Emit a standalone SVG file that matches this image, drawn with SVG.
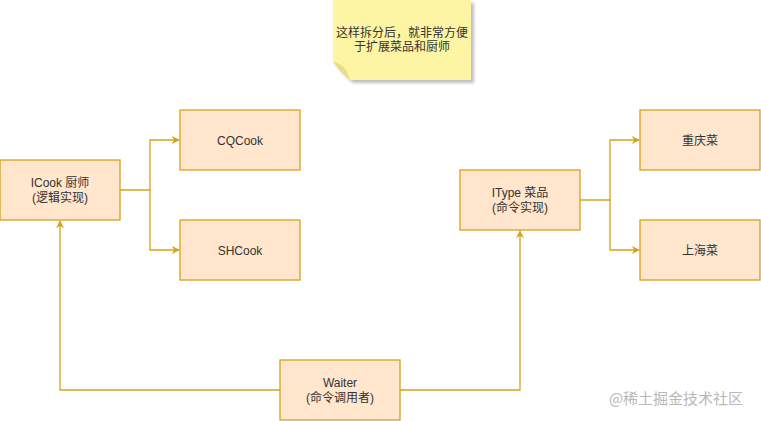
<svg xmlns="http://www.w3.org/2000/svg" width="761" height="421" viewBox="0 0 761 421">
<style>
.box{fill:#ffe6cc;stroke:#d6a21a;stroke-width:1.3}
.t{font-family:"Liberation Sans","Noto Sans CJK SC",sans-serif;font-size:12px;fill:#333;text-anchor:middle}
.edge{fill:none;stroke:#d6a21a;stroke-width:1.3}
</style>
<defs>
<marker id="ah" viewBox="0 0 10 10" refX="9" refY="5" markerWidth="8" markerHeight="8" markerUnits="userSpaceOnUse" orient="auto">
<path d="M0,0 L10,5 L0,10 L3,5 Z" fill="#d6a21a"/>
</marker>
<filter id="sh" x="-10%" y="-10%" width="130%" height="130%">
<feGaussianBlur in="SourceAlpha" stdDeviation="1.5"/>
<feOffset dx="3" dy="3"/>
<feComponentTransfer><feFuncA type="linear" slope="0.25"/></feComponentTransfer>
<feMerge><feMergeNode/><feMergeNode in="SourceGraphic"/></feMerge>
</filter>
</defs>
<rect width="761" height="421" fill="#fff"/>
<g id="note">
<path d="M333,0 L471,0 L471,80 L350,80 Q340,72 333,62 Z" fill="#fdf4a4" filter="url(#sh)"/>
<path d="M333,62 Q346,64 350,80 Q340,72 333,62 Z" fill="#e8dc8c"/>
<text class="t" x="402" y="37">这样拆分后，就非常方便</text>
<text class="t" x="402" y="51">于扩展菜品和厨师</text>
</g>
<g id="connectors">
<path class="edge" d="M120,190 H150 V140 H179" marker-end="url(#ah)"/>
<path class="edge" d="M150,190 V250 H179" marker-end="url(#ah)"/>
<path class="edge" d="M580,200 H610 V140 H639" marker-end="url(#ah)"/>
<path class="edge" d="M610,200 V250 H639" marker-end="url(#ah)"/>
<path class="edge" d="M280,390 H60 V221" marker-end="url(#ah)"/>
<path class="edge" d="M400,390 H520 V231" marker-end="url(#ah)"/>
</g>
<g id="icook">
<rect class="box" x="0" y="160" width="120" height="60"/>
<text class="t" x="60" y="187">ICook 厨师</text>
<text class="t" x="60" y="202">(逻辑实现)</text>
</g>
<g id="cqcook">
<rect class="box" x="180" y="110" width="120" height="60"/>
<text class="t" x="240" y="145">CQCook</text>
</g>
<g id="shcook">
<rect class="box" x="180" y="220" width="120" height="60"/>
<text class="t" x="240" y="255">SHCook</text>
</g>
<g id="itype">
<rect class="box" x="460" y="170" width="120" height="60"/>
<text class="t" x="520" y="197">IType 菜品</text>
<text class="t" x="520" y="212">(命令实现)</text>
</g>
<g id="cq">
<rect class="box" x="640" y="110" width="120" height="60"/>
<text class="t" x="700" y="145">重庆菜</text>
</g>
<g id="sh">
<rect class="box" x="640" y="220" width="120" height="60"/>
<text class="t" x="700" y="255">上海菜</text>
</g>
<g id="waiter">
<rect class="box" x="280" y="360" width="120" height="60"/>
<text class="t" x="340" y="387">Waiter</text>
<text class="t" x="340" y="402">(命令调用者)</text>
</g>
<text x="676" y="404" font-family="'Noto Sans CJK SC',sans-serif" font-size="15" fill="#b8b8b8" text-anchor="middle">@稀土掘金技术社区</text>
</svg>
